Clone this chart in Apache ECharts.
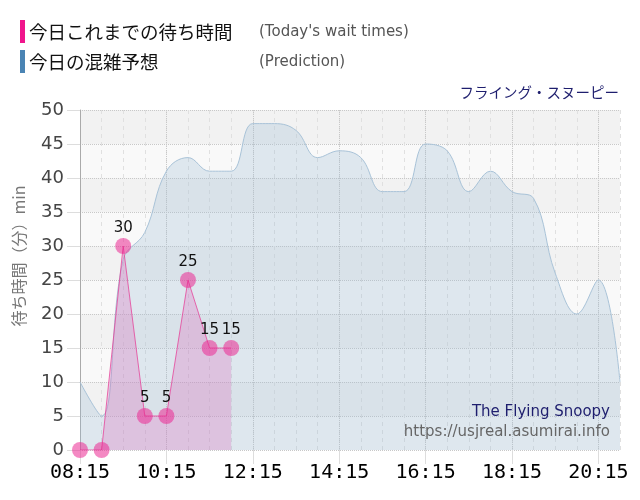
<!DOCTYPE html>
<html>
<head>
<meta charset="utf-8">
<script src="https://cdn.jsdelivr.net/npm/echarts@6/dist/echarts.min.js"></script>
<style>html,body{margin:0;padding:0;background:#fff;}#c{width:640px;height:500px;}</style>
</head>
<body>
<div id="c"></div>
<script>
const categories = ['08:15','08:45','09:15','09:45','10:15','10:45','11:15','11:45','12:15','12:45','13:15','13:45','14:15','14:45','15:15','15:45','16:15','16:45','17:15','17:45','18:15','18:45','19:15','19:45','20:15','20:45'];
const prediction = [10,5,28,32,41,43,41,41,48,48,47,43,44,43,38,38,45,44,38,41,38,37,26,20,25,10];
const waitTimes = [0,0,30,5,5,25,15,15];
const yTicks = [0,5,10,15,20,25,30,35,40,45,50];

const chart = echarts.init(document.getElementById('c'), null, {renderer:'canvas'});
const cjk = '"Noto Sans CJK JP", "Noto Sans", sans-serif';
const sans = '"DejaVu Sans", Verdana, sans-serif';
const mono = '"DejaVu Sans Mono", monospace';

chart.setOption({
  animation: false,
  backgroundColor: '#ffffff',
  grid: {left: 80, right: 20, top: 110, bottom: 50, containLabel: false},
  xAxis: [{
    type: 'category', data: categories, boundaryGap: false,
    axisLine: {show: false},
    axisTick: {show: true, interval: 3, length: 14, lineStyle: {color: '#dddddd'}},
    axisLabel: {interval: 3, margin: 13, color: '#000', fontSize: 20, fontFamily: mono},
    splitLine: {show: true, interval: 0, lineStyle: {color: '#e0e0e0', type: [4, 4], width: 1}}
  }, {
    type: 'category', data: categories, boundaryGap: false, position: 'bottom',
    axisLine: {show: false}, axisTick: {show: false}, axisLabel: {show: false},
    splitLine: {show: true, interval: 3, lineStyle: {color: '#c8c8c8', type: [1, 1], width: 1}}
  }],
  yAxis: {
    type: 'value', min: yTicks[0], max: yTicks[yTicks.length-1], interval: 5,
    axisLine: {show: true, lineStyle: {color: '#aaaaaa', width: 1}},
    axisTick: {show: true, length: 13, lineStyle: {color: '#dddddd'}},
    axisLabel: {margin: 16, color: '#444444', fontSize: 18, fontFamily: sans},
    splitLine: {show: true, lineStyle: {color: '#c8c8c8', type: [1, 1], width: 1}},
    splitArea: {show: true, areaStyle: {color: ['#f9f9f9', '#f2f2f2']}}
  },
  series: [{
    name: 'prediction', type: 'line', data: prediction, smooth: 0.4,
    showSymbol: false, symbol: 'none',
    lineStyle: {color: '#a9c3d8', width: 1},
    areaStyle: {color: 'rgba(155,187,210,0.42)'},
    z: 2
  }, {
    name: 'wait', type: 'line', data: waitTimes,
    symbol: 'circle', symbolSize: 16, showSymbol: true, showAllSymbol: true,
    itemStyle: {color: 'rgba(235,40,145,0.55)'},
    lineStyle: {color: 'rgba(230,60,150,0.75)', width: 1},
    areaStyle: {color: 'rgba(222,105,188,0.42)'},
    label: {show: true, position: 'top', distance: 2, color: '#111', fontSize: 15, fontFamily: sans,
      formatter: p => p.value === 0 ? '' : String(p.value)},
    labelLayout: {hideOverlap: false},
    z: 3
  }],
  graphic: [
    {type: 'rect', shape: {x: 20, y: 20, width: 5, height: 23}, style: {fill: '#f0158c'}},
    {type: 'text', x: 29, y: 32, style: {text: '今日これまでの待ち時間', font: '18.5px ' + cjk, fill: '#111', textVerticalAlign: 'middle'}},
    {type: 'text', x: 259, y: 32, style: {text: "(Today's wait times)", font: '15px ' + sans, fill: '#555', textVerticalAlign: 'middle'}},
    {type: 'rect', shape: {x: 20, y: 50, width: 5, height: 23}, style: {fill: '#4a84b4'}},
    {type: 'text', x: 29, y: 62, style: {text: '今日の混雑予想', font: '18.5px ' + cjk, fill: '#111', textVerticalAlign: 'middle'}},
    {type: 'text', x: 259, y: 62, style: {text: '(Prediction)', font: '15px ' + sans, fill: '#555', textVerticalAlign: 'middle'}},
    {type: 'text', x: 619, y: 92, style: {text: 'フライング・スヌーピー', font: '14.5px ' + cjk, fill: '#1e1e6e', textAlign: 'right', textVerticalAlign: 'middle'}},
    {type: 'text', x: 19, y: 256, rotation: Math.PI/2, style: {text: '待ち時間（分）min', font: '16px ' + cjk, fill: '#777', textAlign: 'center', textVerticalAlign: 'middle'}},
    {type: 'text', x: 610, y: 412, z: 10, style: {text: 'The Flying Snoopy', font: '15px ' + sans, fill: '#1e1e6e', textAlign: 'right', textVerticalAlign: 'middle'}},
    {type: 'text', x: 610, y: 432, z: 10, style: {text: 'https://usjreal.asumirai.info', font: '15px ' + sans, fill: '#666', textAlign: 'right', textVerticalAlign: 'middle'}}
  ]
});
</script>
</body>
</html>
